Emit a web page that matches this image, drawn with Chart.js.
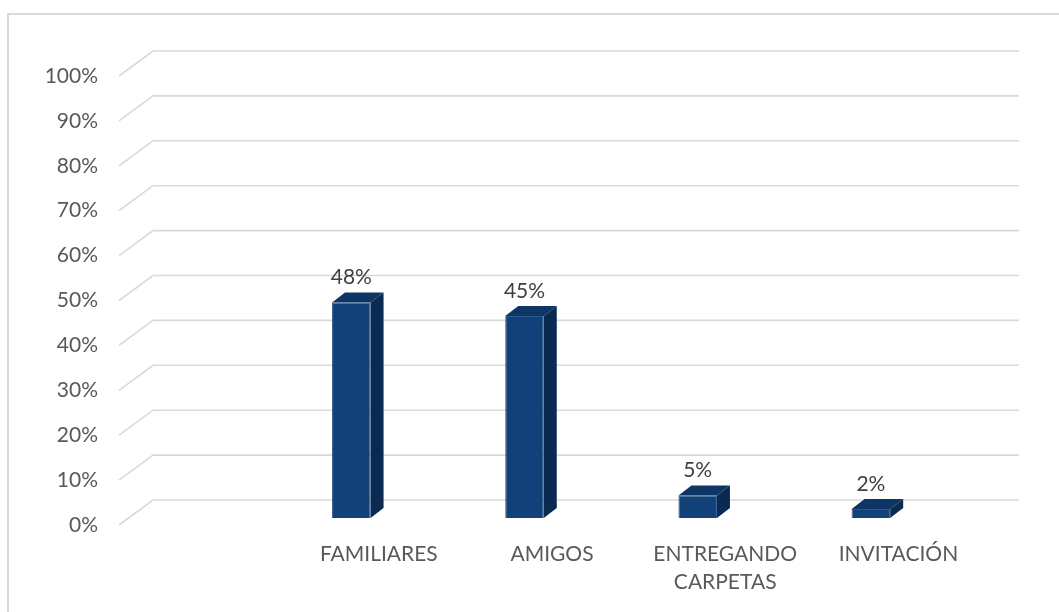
<!DOCTYPE html>
<html>
<head>
<meta charset="utf-8">
<script src="https://cdn.jsdelivr.net/npm/chart.js@4/dist/chart.umd.min.js"></script>
<style>
  html, body { margin: 0; padding: 0; background: #ffffff; }
  #wrap { width: 1059px; height: 612px; position: relative; }
</style>
</head>
<body>
<div id="wrap"><canvas id="c" width="1059" height="612"></canvas></div>
<script>
// ---- data ----
const categories = ['', 'FAMILIARES', 'AMIGOS', ['ENTREGANDO', 'CARPETAS'], 'INVITACIÓN'];
const values = [null, 48, 45, 5, 2];
const valueLabels = ['', '48%', '45%', '5%', '2%'];
const yTicks = [0, 10, 20, 30, 40, 50, 60, 70, 80, 90, 100];

// ---- style ----
const FONT = 'Lato, "Liberation Sans", sans-serif';
const GRID = '#d9d9d9';
const TEXT = '#595959';
const WALL_DX = 34, WALL_DY = -25;      // back wall offset from front floor edge
const BAR_DX = -27.5, BAR_DY = -7;      // bar plane offset from front plane
const DEPTH_DX = 13, DEPTH_DY = -10;    // bar depth
const FRONT = '#114178', SIDE = '#0a2a52', TOP = '#0d3565';

const frame3d = {
  id: 'frame3d',
  beforeDraw(chart) {
    const ctx = chart.ctx;
    ctx.save();
    ctx.strokeStyle = GRID;
    ctx.lineWidth = 2;
    ctx.beginPath();
    ctx.moveTo(8, 612);
    ctx.lineTo(8, 14);
    ctx.lineTo(1059, 14);
    ctx.stroke();
    ctx.restore();
  },
  beforeDatasetsDraw(chart) {
    const ctx = chart.ctx;
    const ys = chart.scales.y;
    const a = chart.chartArea;
    ctx.save();
    ctx.strokeStyle = GRID;
    ctx.lineWidth = 1.6;
    yTicks.forEach(v => {
      const py = ys.getPixelForValue(v);
      ctx.beginPath();
      ctx.moveTo(a.left, py);
      ctx.lineTo(a.left + WALL_DX, py + WALL_DY);
      ctx.lineTo(a.right + WALL_DX, py + WALL_DY);
      ctx.stroke();
    });
    ctx.restore();
    ctx.save();
    ctx.translate(BAR_DX, BAR_DY);
  },
  afterDatasetsDraw(chart) {
    const ctx = chart.ctx;
    const meta = chart.getDatasetMeta(0);
    meta.data.forEach((bar, i) => {
      if (values[i] === null || values[i] === undefined) return;
      const p = bar.getProps(['x', 'y', 'base', 'width'], true);
      const l = p.x - p.width / 2, r = p.x + p.width / 2;
      // side face
      ctx.fillStyle = SIDE;
      ctx.beginPath();
      ctx.moveTo(r, p.y);
      ctx.lineTo(r + DEPTH_DX, p.y + DEPTH_DY);
      ctx.lineTo(r + DEPTH_DX, p.base + DEPTH_DY);
      ctx.lineTo(r, p.base);
      ctx.closePath();
      ctx.fill();
      // top face
      ctx.fillStyle = TOP;
      ctx.beginPath();
      ctx.moveTo(l, p.y);
      ctx.lineTo(l + DEPTH_DX, p.y + DEPTH_DY);
      ctx.lineTo(r + DEPTH_DX, p.y + DEPTH_DY);
      ctx.lineTo(r, p.y);
      ctx.closePath();
      ctx.fill();
      // value label
      ctx.fillStyle = '#404040';
      ctx.font = '21px ' + FONT;
      ctx.textAlign = 'center';
      ctx.textBaseline = 'middle';
      ctx.fillText(valueLabels[i], p.x, p.y - 25);
    });
    ctx.restore();
  }
};

new Chart(document.getElementById('c'), {
  type: 'bar',
  data: {
    labels: categories,
    datasets: [{
      data: values,
      backgroundColor: FRONT,
      borderColor: '#2b5a8f',
      borderWidth: 1,
      barPercentage: 0.2225,
      categoryPercentage: 1.0
    }]
  },
  options: {
    responsive: false,
    animation: false,
    events: [],
    layout: { padding: { left: 0, right: 74, top: 76, bottom: 0 } },
    plugins: { legend: { display: false }, tooltip: { enabled: false } },
    scales: {
      x: {
        grid: { display: false, drawTicks: false },
        border: { display: false },
        ticks: {
          color: TEXT,
          font: { family: FONT, size: 21, lineHeight: 1.35 },
          padding: 15,
          maxRotation: 0,
          autoSkip: false
        },
        afterFit(axis) { axis.height = 87; }
      },
      y: {
        min: 0,
        max: 100,
        grid: { display: false, drawTicks: false },
        border: { display: false },
        ticks: {
          stepSize: 10,
          color: TEXT,
          font: { family: FONT, size: 21 },
          padding: 21,
          callback: v => v + '%'
        },
        afterFit(axis) { axis.width = 119; }
      }
    }
  },
  plugins: [frame3d]
});
</script>
</body>
</html>
